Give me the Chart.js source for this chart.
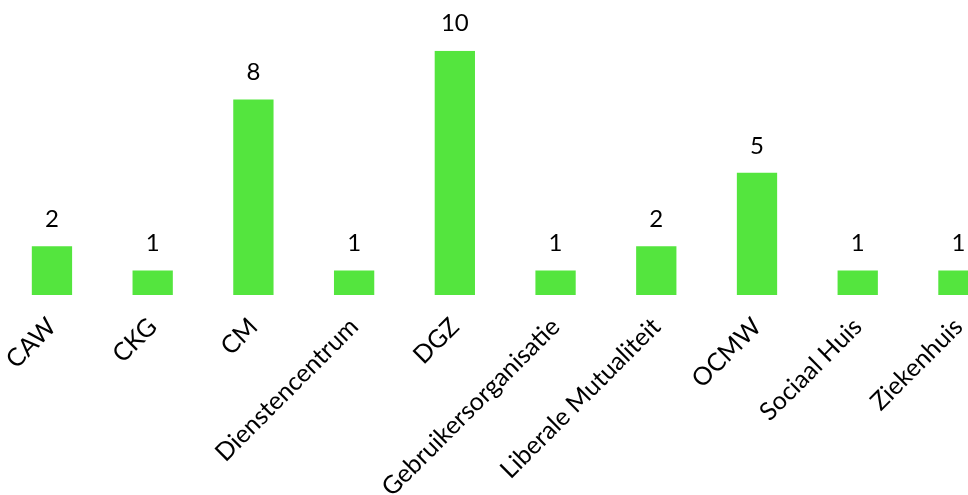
<!DOCTYPE html>
<html>
<head>
<meta charset="utf-8">
<script src="https://cdn.jsdelivr.net/npm/chart.js@4.4.1/dist/chart.umd.min.js"></script>
<style>
  html, body { margin: 0; padding: 0; background: #ffffff; overflow: hidden; }
  #wrap { width: 1010px; height: 495px; }
</style>
</head>
<body>
<div id="wrap"><canvas id="c" width="1010" height="495"></canvas></div>
<script>
// Organisations and how many times each was mentioned
const categories = [
  'CAW', 'CKG', 'CM', 'Dienstencentrum', 'DGZ',
  'Gebruikersorganisatie', 'Liberale Mutualiteit', 'OCMW', 'Sociaal Huis', 'Ziekenhuis'
];
const counts = [2, 1, 8, 1, 10, 1, 2, 5, 1, 1];

const FONT = 'Lato, "Open Sans", sans-serif';
const BAR_COLOR = '#54E53E';

// Writes each bar's value just above it
const valueLabels = {
  id: 'valueLabels',
  afterDatasetsDraw(chart) {
    const ctx = chart.ctx;
    const meta = chart.getDatasetMeta(0);
    ctx.save();
    ctx.fillStyle = '#000000';
    ctx.font = '24px ' + FONT;
    ctx.textAlign = 'center';
    ctx.textBaseline = 'middle';
    meta.data.forEach((bar, i) => {
      ctx.fillText(String(chart.data.datasets[0].data[i]), bar.x, bar.y - 27);
    });
    ctx.restore();
  }
};

new Chart(document.getElementById('c'), {
  type: 'bar',
  data: {
    labels: categories,
    datasets: [{
      data: counts,
      backgroundColor: BAR_COLOR,
      borderWidth: 0,
      barPercentage: 0.8,
      categoryPercentage: 0.5
    }]
  },
  options: {
    responsive: false,
    devicePixelRatio: 1,
    animation: false,
    layout: { padding: { left: 1.6, right: 1.2, top: 50.7, bottom: 0 } },
    plugins: {
      legend: { display: false },
      tooltip: { enabled: false }
    },
    scales: {
      x: {
        grid: { display: false },
        border: { display: false },
        ticks: {
          color: '#000000',
          font: { family: FONT, size: 25 },
          minRotation: 45,
          maxRotation: 45,
          autoSkip: false,
          padding: 9
        },
        afterFit(scale) { scale.height = 200; }
      },
      y: {
        display: false,
        min: 0,
        max: 10
      }
    }
  },
  plugins: [valueLabels]
});
</script>
</body>
</html>
